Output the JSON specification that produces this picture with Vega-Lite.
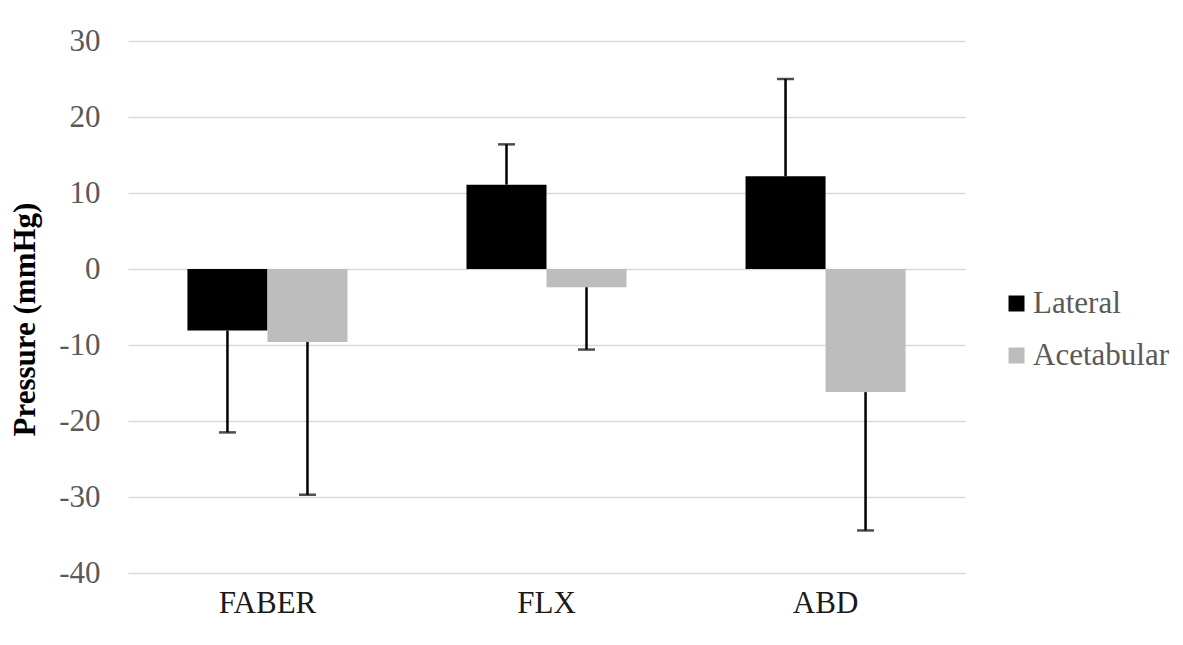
{
  "$schema": "https://vega.github.io/schema/vega-lite/v6.json",
  "width": 837,
  "height": 532,
  "autosize": {"type": "none"},
  "padding": {"left": 128, "top": 41, "right": 218, "bottom": 72},
  "background": "white",
  "config": {"view": {"stroke": null}, "font": "Liberation Serif"},
  "data": {
    "values": [
      {"position": "FABER", "series": "Lateral", "mean": -8.1, "err": -21.5},
      {"position": "FABER", "series": "Acetabular", "mean": -9.6, "err": -29.7},
      {"position": "FLX", "series": "Lateral", "mean": 11.1, "err": 16.4},
      {"position": "FLX", "series": "Acetabular", "mean": -2.4, "err": -10.6},
      {"position": "ABD", "series": "Lateral", "mean": 12.2, "err": 25.0},
      {"position": "ABD", "series": "Acetabular", "mean": -16.2, "err": -34.4}
    ]
  },
  "encoding": {
    "x": {
      "field": "position",
      "type": "nominal",
      "sort": ["FABER", "FLX", "ABD"],
      "scale": {"paddingInner": 0.4265, "paddingOuter": 0.213},
      "axis": {
        "title": null,
        "labelAngle": 0,
        "domain": false,
        "ticks": false,
        "grid": false,
        "labelFont": "Liberation Serif",
        "labelFontSize": 31,
        "labelColor": "#1a1a1a",
        "labelPadding": 15
      }
    },
    "xOffset": {
      "field": "series",
      "type": "nominal",
      "sort": ["Lateral", "Acetabular"],
      "scale": {"paddingInner": 0, "paddingOuter": 0}
    },
    "y": {
      "field": "mean",
      "type": "quantitative",
      "scale": {"domain": [-40, 30], "nice": false, "zero": false},
      "axis": {
        "title": "Pressure (mmHg)",
        "values": [-40, -30, -20, -10, 0, 10, 20, 30],
        "labelExpr": "'' + datum.value",
        "domain": false,
        "ticks": false,
        "grid": true,
        "gridColor": "#d9d9d9",
        "gridWidth": 1.5,
        "labelFont": "Liberation Serif",
        "labelFontSize": 31,
        "labelColor": "#595959",
        "labelPadding": 28,
        "titleFont": "Liberation Serif",
        "titleFontSize": 31,
        "titleFontWeight": "bold",
        "titleColor": "#000000",
        "titlePadding": 17,
        "titleY": 278
      }
    }
  },
  "layer": [
    {
      "mark": {"type": "bar"},
      "encoding": {
        "y2": {"datum": 0},
        "color": {
          "field": "series",
          "type": "nominal",
          "sort": ["Lateral", "Acetabular"],
          "scale": {"domain": ["Lateral", "Acetabular"], "range": ["#000000", "#bdbdbd"]},
          "legend": {
            "title": null,
            "orient": "none",
            "legendX": 873,
            "legendY": 247,
            "padding": 0,
            "symbolType": "square",
            "symbolSize": 256,
            "symbolStrokeWidth": 0,
            "labelFont": "Liberation Serif",
            "labelFontSize": 31,
            "labelColor": "#595959",
            "labelOffset": 1,
            "rowPadding": 20
          }
        }
      }
    },
    {
      "mark": {"type": "rule", "color": "#000000", "strokeWidth": 2.5},
      "encoding": {"y2": {"field": "err"}}
    },
    {
      "mark": {"type": "tick", "color": "#000000", "thickness": 2.5, "size": 17},
      "encoding": {"y": {"field": "err", "type": "quantitative"}}
    }
  ]
}
